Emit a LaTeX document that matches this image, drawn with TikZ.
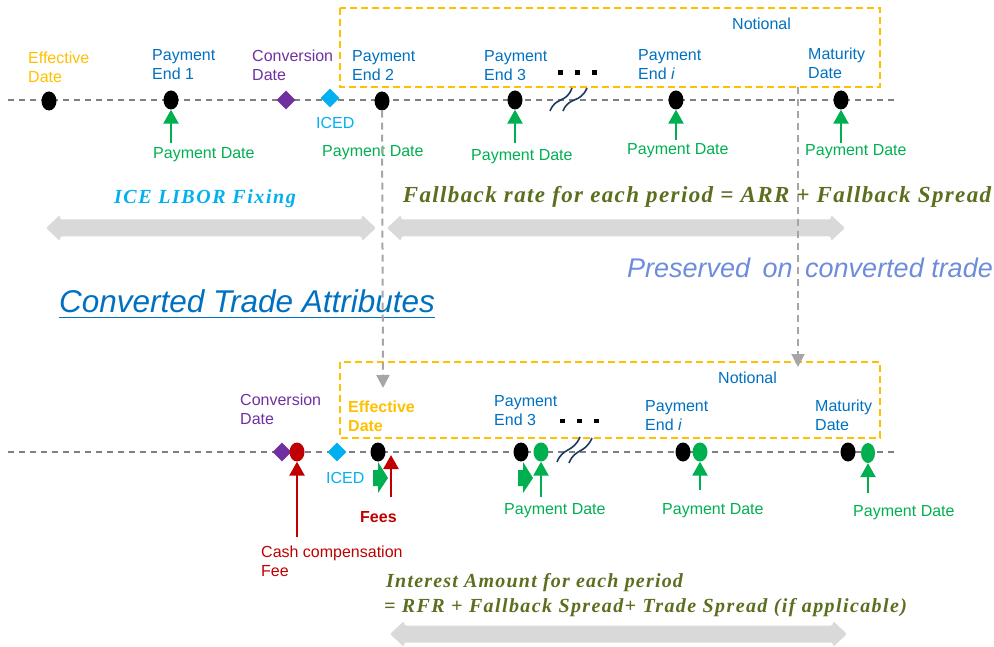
\documentclass[tikz,border=0pt]{standalone}
\usepackage{fontspec}
\setmainfont{Liberation Sans}
\newfontfamily\fml{Liberation Serif}[LetterSpace=6]
\newfontfamily\fmlw{Liberation Serif}[LetterSpace=8]
\newfontfamily\fmlx{Liberation Serif}[LetterSpace=7]
\usetikzlibrary{shapes.geometric,arrows.meta}
\definecolor{orng}{HTML}{FFC000}
\definecolor{blu}{HTML}{0070C0}
\definecolor{purp}{HTML}{7030A0}
\definecolor{cyn}{HTML}{00B0F0}
\definecolor{grn}{HTML}{00B050}
\definecolor{rd}{HTML}{C00000}
\definecolor{olv}{HTML}{5B6F1F}
\definecolor{pres}{HTML}{6E8CDC}
\definecolor{gline}{HTML}{808080}
\definecolor{vgray}{HTML}{A6A6A6}
\definecolor{bandgray}{HTML}{D9D9D9}
\definecolor{navy}{HTML}{1F3864}
\newcommand\gband[3]{\fill[bandgray, rounded corners=2pt] (#1,#3) -- (#1+14,#3-13) -- (#1+14,#3-8.5) -- (#2-14,#3-8.5) -- (#2-14,#3-13) -- (#2,#3) -- (#2-14,#3+13) -- (#2-14,#3+8.5) -- (#1+14,#3+8.5) -- (#1+14,#3+13) -- cycle;}
\newcommand\gflag[2]{\fill[grn] (#1,#2+10) -- (#1+5,#2+10) -- (#1+5,#2+2) -- (#1+15,#2+18) -- (#1+5,#2+33) -- (#1+5,#2+26) -- (#1,#2+26) -- cycle;}
\begin{document}
\begin{tikzpicture}[x=1pt,y=-1pt,
  lbl/.style={font=\fontsize{16}{19}\selectfont, align=left, anchor=west, inner sep=0pt},
  dot/.style={ellipse, fill=black, minimum width=15pt, minimum height=19pt, inner sep=0pt},
  gdot/.style={dot, fill=grn},
  rdot/.style={dot, fill=rd},
  dia/.style={diamond, minimum width=19pt, minimum height=19pt, inner sep=0pt},
  tline/.style={draw=gline, line width=1.8pt, dash pattern=on 6pt off 5pt},
  nbox/.style={draw=orng, line width=2pt, dash pattern=on 7pt off 4pt},
  garr/.style={draw=grn, line width=2.6pt, -{Triangle[width=15pt,length=14pt]}},
  rarr/.style={draw=rd, line width=2.6pt, -{Triangle[width=15pt,length=14pt]}},
  vdash/.style={draw=vgray, line width=2pt, dash pattern=on 7pt off 5pt, -{Triangle[width=13pt,length=13pt]}},
  fmla/.style={font=\fontsize{23}{26}\selectfont\fml\bfseries\itshape, text=olv, inner sep=0pt},
  fmli/.style={font=\fontsize{20}{24}\selectfont\fmlw\bfseries\itshape, text=cyn, inner sep=0pt},
  fmlb/.style={font=\fontsize{20}{24}\selectfont\fml\bfseries\itshape, text=olv, inner sep=0pt, anchor=west},
  fmlc/.style={font=\fontsize{20}{24}\selectfont\fmlx\bfseries\itshape, text=olv, inner sep=0pt, anchor=west},
  wave/.style={draw=navy, line width=1.6pt},
  sq/.style={fill=black},
]
\useasboundingbox (0,0) rectangle (994,647);

% ---------- top timeline ----------
\draw[nbox] (340,8) rectangle (880,87);
\coordinate (boxbot) at (798,87);
\draw[tline] (8,100) -- (895,100);

\node[dot] (e0) at (49,101) {};
\node[dot] (p1) at (171,100) {};
\node[dia, fill=purp] (conv) at (286,100) {};
\node[dia, fill=cyn] (iced) at (330,98) {};
\node[dot] (p2) at (382,101) {};
\node[dot] (p3) at (515,100) {};
\node[dot] (pi) at (676,100) {};
\node[dot] (mat) at (841,100) {};

\draw[wave] (550,111) .. controls (556,96) and (566,104) .. (572,88);
\draw[wave] (563,111) .. controls (569,96) and (580,104) .. (587,88);
\fill[sq] (558,70.5) rectangle +(4.5,4.5);
\fill[sq] (575,70.5) rectangle +(4.5,4.5);
\fill[sq] (592,70.5) rectangle +(4.5,4.5);

\node[lbl, text=orng] (le0) at (28,67) {Effective\\Date};
\node[lbl, text=blu] (lp1) at (152,65) {Payment\\End 1};
\node[lbl, text=purp] (lconv) at (252,65.5) {Conversion\\Date};
\node[lbl, text=blu] (lp2) at (352,65.5) {Payment\\End 2};
\node[lbl, text=blu] (lp3) at (484,65.5) {Payment\\End 3};
\node[lbl, text=blu] (lpi) at (638,64.5) {Payment\\End \textit{i}};
\node[lbl, text=blu] (lmat) at (808,63.5) {Maturity\\Date};
\node[lbl, text=blu] (notl1) at (732,24) {Notional};
\node[lbl, text=cyn] (liced) at (316,123) {ICED};

\coordinate (a1) at (171,143);
\coordinate (a3) at (515,143);
\coordinate (ai) at (676,140);
\coordinate (am) at (841,143);
\draw[garr] (a1) -- (p1.south);
\draw[garr] (a3) -- (p3.south);
\draw[garr] (ai) -- (pi.south);
\draw[garr] (am) -- (mat.south);

\node[lbl, text=grn] (pd1) at (153,155) {Payment Date};
\node[lbl, text=grn] (pd2) at (322,153) {Payment Date};
\node[lbl, text=grn] (pd3) at (471,157) {Payment Date};
\node[lbl, text=grn] (pdi) at (627,151) {Payment Date};
\node[lbl, text=grn] (pdm) at (805,152) {Payment Date};

% ---------- middle ----------
\node[fmli] (ice) at (205,199) {ICE LIBOR Fixing};
\node[fmla] (fb) at (697,197) {Fallback rate for each period = ARR + Fallback Spread};
\gband{46}{376}{228}
\gband{387}{845}{228}

\node[font=\fontsize{27}{31}\selectfont\itshape, text=pres, inner sep=0pt] (presv) at (810,268) {Preserved\hspace{5pt} on\hspace{5pt} converted trade};
\node[font=\fontsize{31.5}{36}\selectfont\itshape, text=blu, inner sep=0pt] (title) at (247,301) {Converted Trade Attributes};
\draw[blu, line width=1.5pt] ([yshift=-5pt]title.base west) -- ([yshift=-5pt]title.base east);

% ---------- bottom timeline ----------
\draw[nbox] (340,362) rectangle (880,438);
\coordinate (v1end) at (383,388);
\coordinate (v2end) at (798,367);
\draw[vdash] (p2.south) -- (v1end);
\draw[vdash] (boxbot) -- (v2end);

\draw[tline] (8,452) -- (898,452);
\node[dia, fill=purp] (bconv) at (282,452) {};
\node[rdot] (cash) at (297,452) {};
\node[dia, fill=cyn] (biced) at (337,452) {};
\node[dot] (beff) at (378,452) {};
\node[dot] (bp3) at (521,452) {};
\node[gdot] (gp3) at (541,452) {};
\node[dot] (bpi) at (683,452) {};
\node[gdot] (gpi) at (700,452) {};
\node[dot] (bmat) at (848,452) {};
\node[gdot, minimum width=14pt, minimum height=20pt] (gmat) at (868,453) {};

\draw[wave] (557,462) .. controls (563,447) and (573,453) .. (580,437);
\draw[wave] (569,463) .. controls (575,448) and (585,454) .. (592,438);
\fill[sq] (560,418.5) rectangle +(4.5,4.5);
\fill[sq] (577,418.5) rectangle +(4.5,4.5);
\fill[sq] (594,418.5) rectangle +(4.5,4.5);

\node[lbl, text=purp] (lbconv) at (240,409.5) {Conversion\\Date};
\node[lbl, text=orng, font=\fontsize{16}{19}\selectfont\bfseries] (lbeff) at (348,416.5) {Effective\\Date};
\node[lbl, text=blu] (lbp3) at (494,410.5) {Payment\\End 3};
\node[lbl, text=blu] (lbpi) at (645,415.5) {Payment\\End \textit{i}};
\node[lbl, text=blu] (lbmat) at (815,415.5) {Maturity\\Date};
\node[lbl, text=blu] (notl2) at (718,378) {Notional};
\node[lbl, text=cyn] (lbiced) at (326,478) {ICED};

\gflag{373}{460}
\gflag{518}{460}

\coordinate (rc) at (297,537);
\coordinate (rf) at (391,497);
\coordinate (rft) at (391,455);
\draw[rarr] (rc) -- (cash.south);
\draw[rarr] (rf) -- (rft);

\coordinate (b3) at (541,497);
\coordinate (bi) at (700,490);
\coordinate (bm) at (868,493);
\draw[garr] (b3) -- (gp3.south);
\draw[garr] (bi) -- (gpi.south);
\draw[garr] (bm) -- (gmat.south);

\node[lbl, text=rd, font=\fontsize{16}{19}\selectfont\bfseries] (fees) at (360,517) {Fees};
\node[lbl, text=rd] (lcash) at (261,561.5) {Cash compensation\\Fee};
\node[lbl, text=grn] (bpd3) at (504,511) {Payment Date};
\node[lbl, text=grn] (bpdi) at (662,511) {Payment Date};
\node[lbl, text=grn] (bpdm) at (853,513) {Payment Date};

\node[fmlb] (int1) at (386,583) {Interest Amount for each period};
\node[fmlc] (int2) at (384,608) {= RFR + Fallback Spread+ Trade Spread (if applicable)};
\gband{390}{847}{634}
\end{tikzpicture}
\end{document}
